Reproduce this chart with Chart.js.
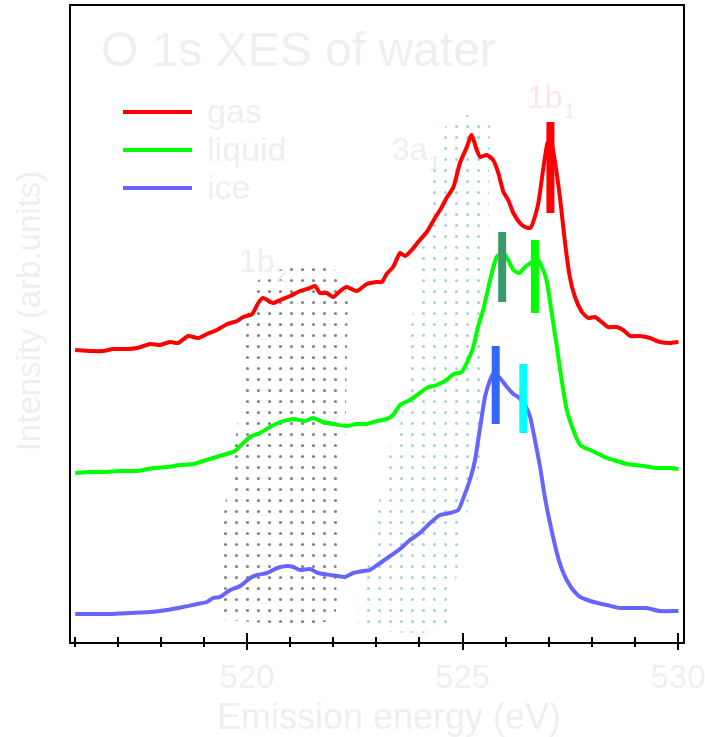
<!DOCTYPE html>
<html>
<head>
<meta charset="utf-8">
<script src="https://cdn.jsdelivr.net/npm/chart.js@4.4.1/dist/chart.umd.min.js"></script>
<style>
  html, body { margin: 0; padding: 0; background: #fff; }
  #wrap { position: relative; width: 705px; height: 737px; }
</style>
</head>
<body>
<div id="wrap"><canvas id="xes"></canvas></div>
<script>
// series (energy in eV, intensity in arb. units)
const seriesNames = ['gas', 'liquid', 'ice'];

const gasEnergy = [516.01, 516.36, 516.66, 516.89, 517.22, 517.45, 517.75, 517.98, 518.21, 518.40,
  518.63, 518.86, 519.07, 519.30, 519.54, 519.77, 519.91, 520.12, 520.26, 520.37,
  520.60, 520.77, 521.00, 521.23, 521.46, 521.58, 521.69, 521.85, 522.00, 522.16,
  522.31, 522.55, 522.78, 523.01, 523.13, 523.24, 523.39, 523.55, 523.67, 523.82,
  523.97, 524.17, 524.36, 524.48, 524.63, 524.79, 524.94, 525.10, 525.21, 525.33,
  525.41, 525.56, 525.71, 525.83, 525.95, 526.06, 526.18, 526.33, 526.45, 526.57,
  526.64, 526.76, 526.87, 526.97, 527.05, 527.15, 527.26, 527.38, 527.49, 527.61,
  527.77, 527.92, 528.07, 528.23, 528.38, 528.58, 528.73, 528.89, 529.12, 529.35,
  529.58, 529.81, 530.01];
const gasIntensity = [2.93, 2.92, 2.92, 2.94, 2.94, 2.95, 2.99, 2.98, 3.01, 3.00,
  3.07, 3.05, 3.09, 3.13, 3.19, 3.22, 3.26, 3.29, 3.40, 3.45,
  3.40, 3.43, 3.47, 3.52, 3.55, 3.57, 3.50, 3.50, 3.46, 3.52,
  3.56, 3.52, 3.59, 3.61, 3.61, 3.69, 3.76, 3.90, 3.87, 3.93,
  4.01, 4.11, 4.25, 4.33, 4.45, 4.56, 4.80, 4.96, 5.08, 4.93,
  4.86, 4.88, 4.83, 4.70, 4.51, 4.43, 4.30, 4.20, 4.16, 4.15,
  4.21, 4.40, 4.73, 5.00, 5.03, 4.80, 4.46, 4.00, 3.66, 3.46,
  3.31, 3.25, 3.26, 3.21, 3.16, 3.16, 3.13, 3.07, 3.07, 3.05,
  3.01, 3.00, 3.01];

const liquidEnergy = [516.01, 516.36, 516.66, 517.05, 517.45, 517.82, 518.14, 518.45, 518.75, 518.98,
  519.21, 519.44, 519.72, 519.91, 520.07, 520.30, 520.53, 520.77, 520.95, 521.07,
  521.35, 521.53, 521.76, 522.00, 522.31, 522.55, 522.78, 523.01, 523.24, 523.39,
  523.55, 523.78, 524.01, 524.17, 524.40, 524.63, 524.79, 524.98, 525.13, 525.25,
  525.37, 525.48, 525.64, 525.79, 525.95, 526.06, 526.18, 526.32, 526.45, 526.61,
  526.72, 526.84, 526.95, 527.07, 527.19, 527.30, 527.42, 527.57, 527.73, 527.96,
  528.11, 528.35, 528.58, 528.81, 529.20, 529.51, 529.81, 530.01];
const liquidIntensity = [1.70, 1.71, 1.71, 1.72, 1.72, 1.75, 1.76, 1.78, 1.79, 1.82,
  1.85, 1.88, 1.92, 2.00, 2.06, 2.10, 2.16, 2.21, 2.23, 2.24,
  2.22, 2.25, 2.21, 2.19, 2.17, 2.19, 2.19, 2.22, 2.24, 2.28,
  2.38, 2.43, 2.50, 2.55, 2.58, 2.63, 2.69, 2.71, 2.83, 2.96,
  3.18, 3.33, 3.63, 3.86, 3.90, 3.83, 3.73, 3.70, 3.76, 3.81,
  3.85, 3.76, 3.63, 3.30, 2.96, 2.63, 2.33, 2.13, 1.98, 1.93,
  1.90, 1.85, 1.82, 1.79, 1.77, 1.75, 1.75, 1.74];

const iceEnergy = [516.01, 516.36, 516.82, 517.29, 517.75, 518.14, 518.52, 518.84, 519.07, 519.21,
  519.37, 519.61, 519.84, 520.07, 520.23, 520.46, 520.70, 520.93, 521.07, 521.23,
  521.46, 521.65, 521.93, 522.09, 522.27, 522.46, 522.69, 522.85, 523.09, 523.32,
  523.55, 523.78, 524.01, 524.25, 524.48, 524.71, 524.90, 525.02, 525.17, 525.29,
  525.41, 525.52, 525.64, 525.73, 525.87, 526.03, 526.18, 526.29, 526.45, 526.57,
  526.68, 526.80, 526.91, 527.03, 527.19, 527.34, 527.53, 527.73, 528.04, 528.35,
  528.65, 528.96, 529.27, 529.58, 530.01];
const iceIntensity = [0.29, 0.29, 0.29, 0.30, 0.31, 0.33, 0.36, 0.39, 0.41, 0.45,
  0.46, 0.53, 0.57, 0.65, 0.68, 0.70, 0.75, 0.77, 0.76, 0.73,
  0.74, 0.70, 0.68, 0.67, 0.66, 0.70, 0.72, 0.73, 0.80, 0.87,
  0.94, 1.03, 1.10, 1.20, 1.28, 1.30, 1.33, 1.45, 1.63, 1.83,
  2.16, 2.46, 2.63, 2.70, 2.65, 2.56, 2.49, 2.46, 2.38, 2.26,
  2.03, 1.76, 1.46, 1.20, 0.90, 0.70, 0.55, 0.46, 0.41, 0.38,
  0.35, 0.35, 0.35, 0.32, 0.32];

// peak markers (vertical bars)
const markerEnergy = [527.04, 525.92, 526.68, 525.77, 526.41];
const markerLow = [4.30, 3.41, 3.30, 2.19, 2.10];
const markerHigh = [5.21, 4.11, 4.03, 2.97, 2.79];
const markerColors = ['#ff0000', '#3a9a6c', '#00ff00', '#3366ff', '#00ffff'];

// dotted orbital bands: upper and lower outline of each band
const b2TopEnergy = [519.30, 519.56, 519.79, 519.95, 520.07, 520.35, 520.77, 521.30, 521.81, 522.16, 522.34];
const b2TopLevel = [0.73, 1.60, 2.23, 3.03, 3.43, 3.68, 3.77, 3.81, 3.77, 3.68, 3.43];
const b2BaseEnergy = [519.30, 521.93, 522.07, 522.16, 522.27, 522.34];
const b2BaseLevel = [0.23, 0.23, 0.73, 1.23, 1.93, 3.43];

const a1TopEnergy = [522.58, 522.78, 523.04, 523.27, 523.55, 523.78, 524.06, 524.29, 524.55, 524.83, 525.06, 525.36, 525.64];
const a1TopLevel = [0.43, 0.73, 1.38, 1.88, 2.18, 3.08, 3.93, 4.68, 5.13, 5.23, 5.28, 5.25, 5.18];
const a1BaseEnergy = [522.58, 524.48, 524.78, 525.01, 525.36, 525.55, 525.64];
const a1BaseLevel = [0.13, 0.13, 0.43, 1.18, 1.63, 3.13, 5.18];

// axis
const xTicks = [516, 517, 518, 519, 520, 521, 522, 523, 524, 525, 526, 527, 528, 529, 530];
const majorTicks = [520, 525, 530];

const FONT = '"Liberation Sans", Arial, Helvetica, sans-serif';
const faint = '#efefef';

const zip = (xs, ys) => xs.map((x, i) => ({ x, y: ys[i] }));

// one dot per 11px tile
function dotPattern(color, r) {
  const c = document.createElement('canvas');
  c.width = 11; c.height = 11;
  const g = c.getContext('2d');
  g.fillStyle = color;
  g.beginPath();
  g.arc(5.5, 5.5, r, 0, Math.PI * 2);
  g.fill();
  return g.createPattern(c, 'repeat');
}

const bandDataset = (data, pattern, fill) => ({
  data, fill, backgroundColor: pattern, borderWidth: 0, pointRadius: 0, tension: 0.3, order: 3
});

const curveColors = ['#ff0000', '#00ff00', '#6666ff'];
const curveDataset = (i, data) => ({
  label: seriesNames[i], data, borderColor: curveColors[i], borderWidth: 4,
  pointRadius: 0, tension: 0.2, fill: false, order: 2
});

const grayDots = dotPattern('rgba(110,110,110,0.85)', 1.6);
const tealDots = dotPattern('rgba(150,205,212,0.9)', 1.5);

const datasets = [
  curveDataset(0, zip(gasEnergy, gasIntensity)),
  curveDataset(1, zip(liquidEnergy, liquidIntensity)),
  curveDataset(2, zip(iceEnergy, iceIntensity)),
  ...markerEnergy.map((e, i) => ({
    data: [{ x: e, y: markerLow[i] }, { x: e, y: markerHigh[i] }],
    borderColor: markerColors[i], borderWidth: 8, borderCapStyle: 'butt',
    pointRadius: 0, fill: false, order: 1
  })),
  bandDataset(zip(b2TopEnergy, b2TopLevel), grayDots, '+1'),
  bandDataset(zip(b2BaseEnergy, b2BaseLevel), grayDots, false),
  bandDataset(zip(a1TopEnergy, a1TopLevel), tealDots, '+1'),
  bandDataset(zip(a1BaseEnergy, a1BaseLevel), tealDots, false)
];

function subLabel(ctx, main, sub, x, y, color) {
  ctx.fillStyle = color;
  ctx.textAlign = 'left';
  ctx.font = `32px ${FONT}`;
  ctx.fillText(main, x, y);
  const w = ctx.measureText(main).width;
  ctx.font = `21px ${FONT}`;
  ctx.fillText(sub, x + w + 1, y + 10);
}

const decor = {
  id: 'decor',
  afterDraw(chart) {
    const { ctx, chartArea: a } = chart;
    const x = chart.scales.x;
    ctx.save();

    // frame
    ctx.strokeStyle = '#000';
    ctx.lineWidth = 2;
    ctx.strokeRect(a.left, a.top, a.right - a.left, a.bottom - a.top);

    // tick marks crossing the bottom axis
    x.ticks.forEach(t => {
      const px = Math.round(x.getPixelForValue(t.value));
      const major = majorTicks.includes(t.value);
      ctx.beginPath();
      ctx.moveTo(px, a.bottom - (major ? 10 : 6));
      ctx.lineTo(px, a.bottom + (major ? 7 : 4));
      ctx.stroke();
    });

    // tick labels and axis titles
    ctx.fillStyle = faint;
    ctx.textAlign = 'center';
    ctx.font = `33px ${FONT}`;
    majorTicks.forEach(v => ctx.fillText(String(v), x.getPixelForValue(v), 688));
    ctx.font = `36px ${FONT}`;
    ctx.fillText('Emission energy (eV)', 389, 729);
    ctx.save();
    ctx.translate(40, 311);
    ctx.rotate(-Math.PI / 2);
    ctx.font = `33px ${FONT}`;
    ctx.fillText('Intensity (arb.units)', 0, 0);
    ctx.restore();

    // title
    ctx.textAlign = 'left';
    ctx.font = `48px ${FONT}`;
    ctx.fillText('O 1s XES of water', 101, 66);

    // legend
    ctx.font = `34px ${FONT}`;
    [112, 150, 188].forEach((ly, i) => {
      ctx.strokeStyle = curveColors[i];
      ctx.lineWidth = 4;
      ctx.beginPath();
      ctx.moveTo(123, ly);
      ctx.lineTo(192, ly);
      ctx.stroke();
      ctx.fillStyle = faint;
      ctx.fillText(seriesNames[i], 207, ly + 11);
    });

    // orbital labels
    subLabel(ctx, '1b', '1', 527, 108, '#ffe6e6');
    subLabel(ctx, '3a', '1', 392, 160, faint);
    subLabel(ctx, '1b', '2', 239, 272, faint);

    ctx.restore();
  }
};

new Chart(document.getElementById('xes'), {
  type: 'line',
  data: { datasets },
  options: {
    responsive: true,
    maintainAspectRatio: false,
    animation: false,
    events: [],
    layout: { padding: { left: 70, top: 5, right: 21, bottom: 94 } },
    plugins: { legend: { display: false }, tooltip: { enabled: false } },
    scales: {
      x: {
        type: 'linear', min: 515.89, max: 530.14,
        afterBuildTicks: s => { s.ticks = xTicks.map(v => ({ value: v })); },
        grid: { display: false, drawTicks: false }, border: { display: false }, ticks: { display: false }
      },
      y: {
        min: 0, max: 6.38,
        grid: { display: false, drawTicks: false }, border: { display: false }, ticks: { display: false }
      }
    }
  },
  plugins: [decor]
});
</script>
</body>
</html>
